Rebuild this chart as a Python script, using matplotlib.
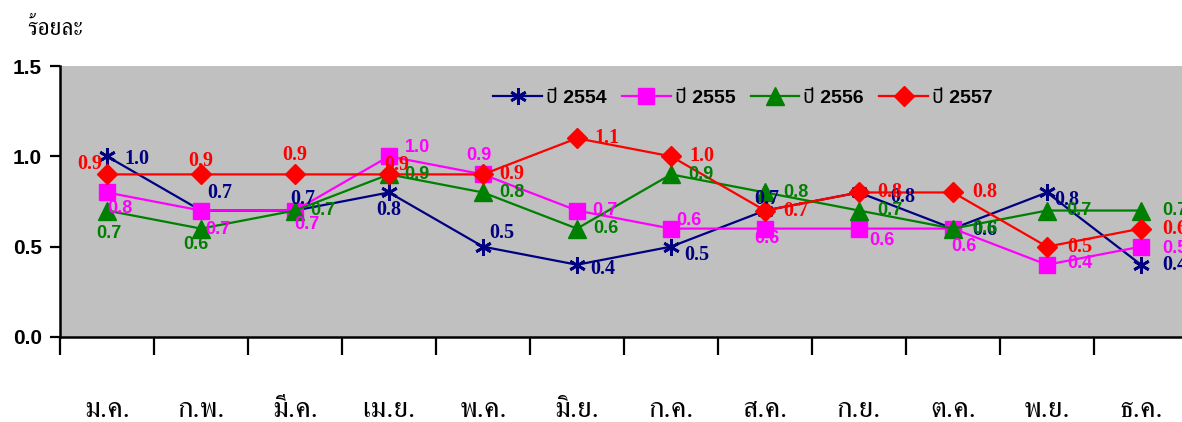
import numpy as np
import matplotlib
matplotlib.use("Agg")
import matplotlib.pyplot as plt

plt.rcParams['font.family'] = ['Liberation Sans', 'Noto Sans Thai', 'DejaVu Sans']

months = ['ม.ค.', 'ก.พ.', 'มี.ค.', 'เม.ย.', 'พ.ค.', 'มิ.ย.',
          'ก.ค.', 'ส.ค.', 'ก.ย.', 'ต.ค.', 'พ.ย.', 'ธ.ค.']
y2554 = [1.0, 0.7, 0.7, 0.8, 0.5, 0.4, 0.5, 0.7, 0.8, 0.6, 0.8, 0.4]
y2555 = [0.8, 0.7, 0.7, 1.0, 0.9, 0.7, 0.6, 0.6, 0.6, 0.6, 0.4, 0.5]
y2556 = [0.7, 0.6, 0.7, 0.9, 0.8, 0.6, 0.9, 0.8, 0.7, 0.6, 0.7, 0.7]
y2557 = [0.9, 0.9, 0.9, 0.9, 0.9, 1.1, 1.0, 0.7, 0.8, 0.8, 0.5, 0.6]
yticks = [0.0, 0.5, 1.0, 1.5]

# label offsets in pixels (dx, dy downward) - hand placed like the excel original
off2554 = [(30, 3), (19, -18), (8, -12), (0, 18), (19, -14), (26, 4),
           (26, 8), (2, -12), (44, 5), (32, 1), (20, 8), (34, 0)]
off2555 = [(13, 16), (17, 19), (12, 14), (28, -9), (-4, -19), (28, 0),
           (18, -8), (2, 10), (23, 12), (11, 18), (33, -1), (34, 2)]
off2556 = [(2, 23), (-5, 16), (28, 0), (28, 0), (29, 0), (29, 0),
           (30, 0), (31, 0), (31, 0), (32, 0), (32, 0), (34, 0)]
off2557 = [(-17, -10), (0, -13), (0, -19), (8, -9), (29, 0), (30, 0),
           (31, 0), (31, 0), (31, 0), (32, 0), (33, 0), (34, 0)]

serif = ['Liberation Serif', 'DejaVu Serif']
sans = ['Liberation Sans', 'DejaVu Sans']
thai_serif = ['FreeSerif', 'Noto Serif Thai', 'DejaVu Serif']

fig = plt.figure(figsize=(11.82, 4.22), dpi=100)
ax = fig.add_axes([60 / 1182, 1 - 337 / 422, 1128 / 1182, 271 / 422])
ax.set_facecolor('#C0C0C0')

x = np.arange(len(months))
series = [
    ('ปี 2554', y2554, '#000080', dict(marker=(6, 2, 0), ms=12, mew=2), off2554, serif, 14.5),
    ('ปี 2555', y2555, '#FF00FF', dict(marker='s', ms=12), off2555, sans, 13),
    ('ปี 2556', y2556, '#008000', dict(marker='^', ms=13), off2556, sans, 13),
    ('ปี 2557', y2557, '#FF0000', dict(marker='D', ms=10), off2557, serif, 14.5),
]
for name, vals, col, mk, offs, fam, fs in series:
    ax.plot(x, vals, color=col, lw=1.6, label=name, mfc=col, mec=col, zorder=3, **mk)

for name, vals, col, mk, offs, fam, fs in series:
    for i, v in enumerate(vals):
        dx, dy = offs[i]
        ax.annotate(f'{v:.1f}', (x[i], v), xytext=(dx, -dy), textcoords='offset pixels',
                    ha='center', va='center', color=col, fontsize=fs, fontweight='bold',
                    family=fam, zorder=5, annotation_clip=False)

ax.set_xlim(-0.5, 11.5)
ax.set_ylim(0, 1.5)
ax.set_yticks(yticks)
ax.set_yticklabels([f'{t:.1f}' for t in yticks], fontsize=15, fontweight='bold')
ax.set_xticks(np.arange(-0.5, 12, 1))
ax.set_xticklabels([])
ax.set_xticks(x, minor=True)
ax.set_xticklabels(months, minor=True, family=thai_serif, fontsize=21)
ax.tick_params(axis='x', which='major', direction='out', length=13, width=1.6)
ax.tick_params(axis='x', which='minor', length=0, pad=44)
ax.tick_params(axis='y', direction='out', length=7, width=1.6, pad=6)

for s in ['top', 'right']:
    ax.spines[s].set_visible(False)
for s in ['left', 'bottom']:
    ax.spines[s].set_linewidth(1.8)

ax.legend(loc='center', bbox_to_anchor=(0.6055, 0.882), ncol=4, frameon=False,
          prop={'weight': 'bold', 'size': 14}, handlelength=2.5,
          handletextpad=0.2, columnspacing=0.8)

fig.text(27 / 1182, 1 - 29 / 422, 'ร้อยละ', family=thai_serif, fontsize=17,
         va='center', ha='left')

fig.savefig('out.png', dpi=100)
